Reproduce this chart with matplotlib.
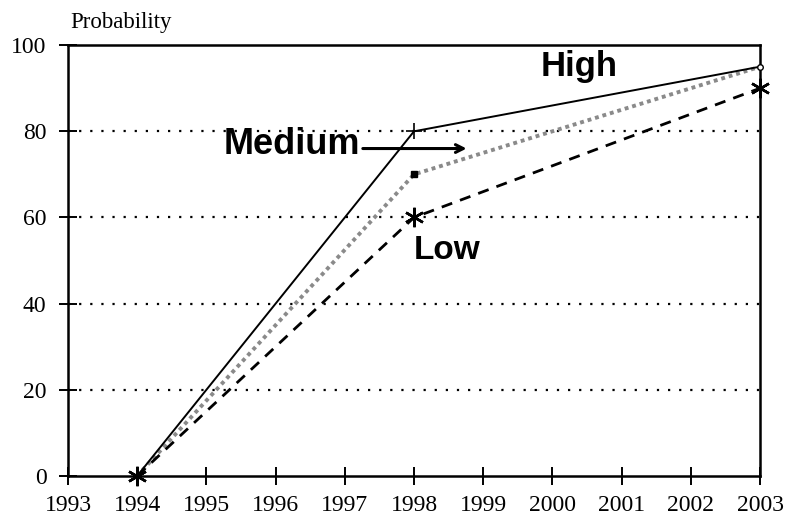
import matplotlib
matplotlib.use('Agg')
import matplotlib.pyplot as plt

years = [1994, 1998, 2003]
high = [0, 80, 95]
medium = [0, 70, 95]
low = [0, 60, 90]
grid_levels = [20, 40, 60, 80]
xticks = list(range(1993, 2004))
yticks = [0, 20, 40, 60, 80, 100]

fig = plt.figure(figsize=(7.86, 5.19), dpi=100)
ax = fig.add_axes([0.0865, 0.083, 0.8805, 0.830])

# dotted horizontal grid
for g in grid_levels:
    ax.plot([1993, 2003], [g, g], color='black', lw=1.6,
            linestyle=(0, (1, 4)), zorder=1)

# the three curves
ax.plot(years, high, color='black', lw=1.4, zorder=3)
ax.plot(years, medium, color='#8a8a8a', lw=2.8, linestyle=(0, (1, 1)), zorder=2)
ax.plot(years, low, color='black', lw=2.0, linestyle=(0, (4, 3)), zorder=3)

# point markers
ax.plot(years[1], high[1], marker='+', ms=12, mew=1.2, color='black', zorder=4)
ax.plot(years[1], medium[1], marker='s', ms=4, color='black', zorder=4)
ax.plot(years[2], medium[2], marker='o', ms=4, mfc='white', mec='black',
        mew=1.0, zorder=4, clip_on=False)
ax.plot(years, low, ls='none', marker=(6, 2, 0), ms=14, mew=1.8,
        color='black', zorder=5, clip_on=False)

# labels on the chart
ax.text(2000.38, 95.1, 'High', fontsize=25, fontweight='bold',
        family='Liberation Sans', ha='center', va='center')
ax.text(1996.24, 77.0, 'Medium', fontsize=26, fontweight='bold',
        family='Liberation Sans', ha='center', va='center')
ax.text(1998.48, 52.4, 'Low', fontsize=24, fontweight='bold',
        family='Liberation Sans', ha='center', va='center')
ax.annotate('', xy=(1998.8, 76), xytext=(1997.22, 76),
            arrowprops=dict(arrowstyle='->', color='black', lw=2.2,
                            mutation_scale=14))

ax.set_xlim(1993, 2003)
ax.set_ylim(0, 100)
ax.set_xticks(xticks)
ax.set_yticks(yticks)
for s in ax.spines.values():
    s.set_linewidth(1.8)
ax.tick_params(direction='inout', length=13, width=1.4,
               labelsize=17)
ax.tick_params(axis='y', pad=9)
ax.tick_params(axis='x', pad=7)
for lab in ax.get_xticklabels() + ax.get_yticklabels():
    lab.set_family('Liberation Serif')

fig.text(0.089, 0.957, 'Probability', fontsize=16.5, family='Liberation Serif',
         ha='left', va='center')

fig.savefig('out.png', dpi=100)
